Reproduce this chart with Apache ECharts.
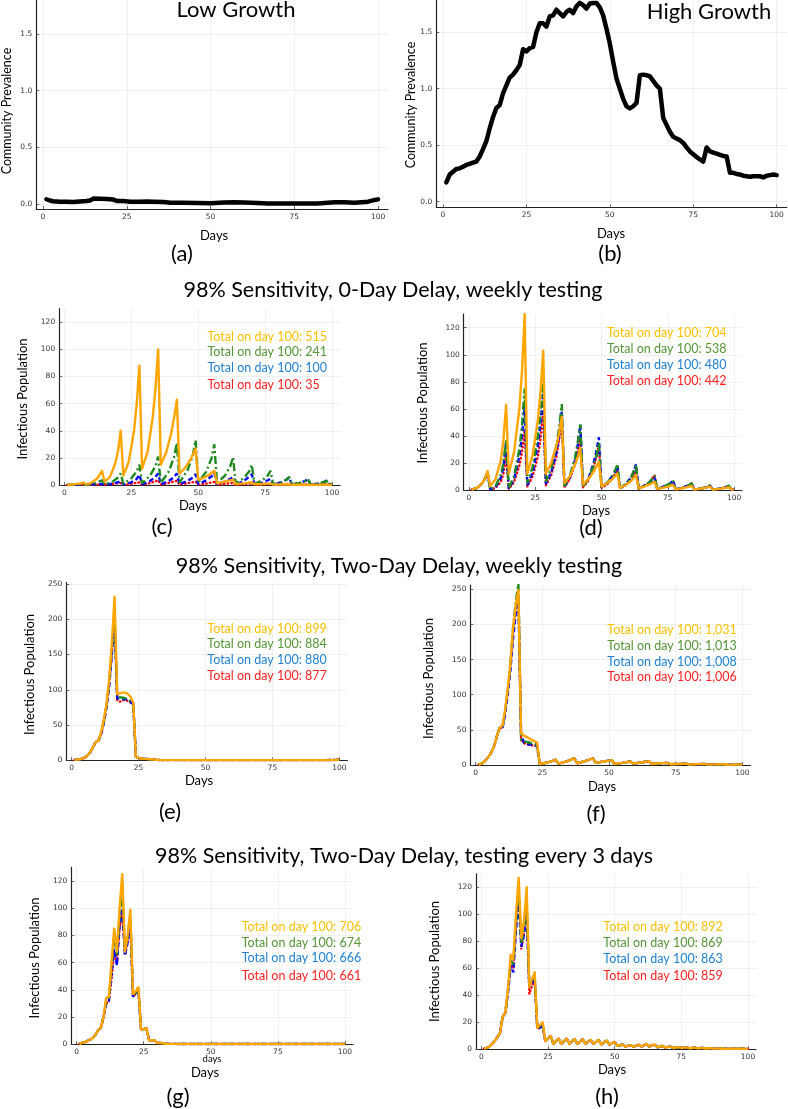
<!DOCTYPE html>
<html><head><meta charset="utf-8">
<script src="https://cdn.jsdelivr.net/npm/echarts@6/dist/echarts.min.js"></script>
<style>html,body{margin:0;padding:0;background:#fff}#c{width:788px;height:1109px}</style>
</head><body><div id="c"></div>
<script>
// ---------- DATA ----------
const xTicks = [0, 25, 50, 75, 100];
const prevTicks = [0, 0.5, 1.0, 1.5];
const t120 = [0, 20, 40, 60, 80, 100, 120];
const t250 = [0, 50, 100, 150, 200, 250];

const aPrev = [[1,0.041],[2,0.03],[3,0.024],[5,0.018],[7,0.02],[9,0.016],[11,0.022],[13,0.025],[14,0.03],[15,0.047],[17,0.045],[19,0.044],[21,0.038],[22,0.026],[24,0.026],[26,0.02],[29,0.02],[31,0.022],[33,0.02],[36,0.016],[38,0.01],[42,0.01],[46,0.009],[50,0.006],[54,0.012],[57,0.015],[60,0.012],[64,0.008],[67,0.004],[72,0.003],[77,0.003],[82,0.003],[85,0.01],[87,0.015],[90,0.015],[93,0.01],[95,0.015],[97,0.02],[99,0.035],[100,0.04]];
const bPrev = [[1,0.17],[2,0.24],[3,0.265],[4,0.29],[5,0.295],[6,0.31],[7,0.325],[8,0.335],[9,0.345],[10,0.355],[11,0.4],[12,0.465],[13,0.535],[14,0.65],[15,0.75],[16,0.83],[17,0.855],[18,0.96],[19,1.03],[20,1.1],[21,1.125],[22,1.165],[23,1.21],[24,1.35],[25,1.33],[26,1.36],[27,1.37],[28,1.5],[29,1.58],[30,1.58],[31,1.55],[32,1.64],[33,1.65],[34,1.7],[35,1.67],[36,1.64],[37,1.68],[38,1.7],[39,1.67],[40,1.73],[41,1.76],[42,1.74],[43,1.71],[44,1.755],[45,1.76],[46,1.76],[47,1.72],[48,1.65],[49,1.53],[50,1.4],[51,1.24],[52,1.09],[53,1.0],[54,0.91],[55,0.845],[56,0.825],[57,0.845],[58,0.875],[59,1.12],[60,1.125],[61,1.12],[62,1.11],[63,1.07],[64,1.03],[65,1.0],[66,0.74],[67,0.68],[68,0.62],[69,0.575],[70,0.56],[71,0.545],[72,0.52],[73,0.48],[74,0.445],[75,0.42],[76,0.395],[77,0.375],[78,0.355],[79,0.48],[80,0.445],[81,0.435],[82,0.425],[83,0.415],[84,0.405],[85,0.4],[86,0.255],[87,0.255],[88,0.245],[89,0.24],[90,0.23],[91,0.225],[92,0.22],[93,0.225],[94,0.225],[95,0.225],[96,0.215],[97,0.23],[98,0.235],[99,0.24],[100,0.235]];

// (c) 0-day delay, weekly, low growth
const cOrange = [[1,0.2],[4,0.6],[6,1.2],[7,1.8],[8,0.5],[10,1.6],[12,4.5],[13,7],[14,10.5],[15,2.5],[17,6],[19,16],[20,25],[21,40],[22,7],[24,17],[26,40],[27,60],[28,88],[29,12],[31,24],[33,50],[34,71],[35,100],[36,15],[38,24],[40,39],[41,50],[42,63],[43,8.5],[45,12.5],[47,18.5],[48,22.5],[49,27],[50,3.7],[52,5.3],[54,7.5],[55,9],[56,10.5],[57,1.3],[59,2],[61,3],[63,4],[64,0.7],[67,1.2],[70,2],[71,0.5],[74,0.7],[77,1],[78,0.3],[84,0.5],[85,0.2],[91,0.3],[92,0.1],[100,0.2]];
const cGreen = [[1,0.1],[7,0.5],[8,0.2],[11,1],[14,3.5],[15,0.5],[18,2.5],[20,5.5],[21,8.5],[22,0.8],[25,5],[27,10],[28,15],[29,1.2],[32,7],[34,14],[35,21],[36,1.5],[39,10],[41,21],[42,31],[43,1.8],[46,11],[48,22],[49,33],[50,1.8],[53,10],[55,20],[56,30],[57,1.5],[60,7],[62,14],[63,20.5],[64,1.2],[67,5],[69,10],[70,15],[71,0.8],[74,3.5],[76,7],[77,10.5],[78,0.6],[81,2],[83,4],[84,6],[85,0.5],[88,1.5],[90,3],[91,4.5],[92,0.4],[95,1.2],[97,2.2],[98,3],[99,0.8],[100,0.8]];
const cBlue = [[1,0.05],[14,0.8],[15,0.1],[18,1],[20,2],[21,3],[22,0.3],[25,2],[27,4.5],[28,7.5],[29,0.4],[32,3],[34,6],[35,8.5],[36,0.5],[39,3],[41,6],[42,8.5],[43,0.5],[46,3],[48,5.5],[49,8],[50,0.5],[53,3.5],[55,6.5],[56,9],[57,0.4],[60,2.5],[62,4.5],[63,6],[64,0.3],[67,3],[69,6],[70,8],[71,0.3],[74,1.8],[76,3.5],[77,4.5],[78,0.3],[81,2],[83,4],[84,5.5],[85,0.3],[88,1.5],[90,3],[91,4.3],[92,0.2],[95,1],[97,2.3],[98,3.2],[99,0.3],[100,0.3]];
const cRed = [[1,0.02],[14,0.3],[18,0.8],[21,1.5],[22,0.1],[25,0.9],[28,2],[29,0.2],[32,1.4],[35,3.5],[36,0.3],[39,1.5],[42,3.2],[43,0.3],[46,1.3],[49,2.5],[50,0.2],[53,1.1],[56,2.2],[57,0.2],[60,0.8],[63,1.6],[64,0.1],[67,0.6],[70,1.2],[71,0.1],[77,0.8],[78,0.1],[84,0.8],[85,0.1],[91,0.5],[98,0.4],[100,0.1]];

// (d) 0-day delay, weekly, high growth
const dOrange = [[1,0.3],[3,1.5],[5,5],[6,8.5],[7,14],[8,3],[10,8],[12,22],[13,37],[14,63],[15,12],[17,28],[19,60],[20,88],[21,130],[22,12],[24,26],[26,52],[27,73],[28,103],[29,12],[31,20],[33,33],[34,42],[35,54],[36,5],[38,10],[40,19],[41,24],[42,31],[43,4],[45,8],[47,13.5],[48,17],[49,21],[50,2.5],[52,5],[54,8],[55,10],[56,12],[57,1.5],[59,3.5],[61,6.5],[62,8.5],[63,11],[64,1.2],[66,2.5],[68,4],[69,5],[70,6],[71,0.8],[74,2],[77,3.7],[78,0.5],[81,1.5],[84,3],[85,0.4],[88,1.2],[91,2.4],[92,0.3],[95,1],[98,2],[99,0.5],[100,0.3]];
const dGreen = [[1,0.3],[3,1.5],[5,5],[6,8.5],[7,13],[8,0.5],[10,3],[12,11],[13,20],[14,37],[15,1.5],[17,10],[19,30],[20,48],[21,75],[22,5],[24,17],[26,40],[27,57],[28,81],[29,6],[31,16],[33,33],[34,46],[35,63.5],[36,3],[38,10],[40,24],[41,35],[42,48.5],[43,3],[45,8],[47,18],[48,25],[49,35],[50,2],[52,5],[54,10],[55,14],[56,19],[57,1.5],[59,4],[61,9],[62,13],[63,19],[64,1],[66,3],[68,5.5],[69,8],[70,10.5],[71,0.8],[74,3],[76,5],[77,7],[78,0.5],[81,2],[83,3.5],[84,5],[85,0.4],[88,1.3],[90,2.5],[91,3.7],[92,0.3],[95,1.2],[97,2.3],[98,3.2],[99,0.4],[100,0.3]];
const dBlue = [[1,0.3],[3,1.5],[5,5],[6,8.5],[7,13],[8,0.3],[10,2],[12,9],[13,17],[14,35],[15,1],[17,8],[19,25],[20,40],[21,62],[22,3.5],[24,13],[26,33],[27,50],[28,72],[29,4.5],[31,13],[33,28],[34,40],[35,58],[36,2.5],[38,9],[40,22],[41,33],[42,48],[43,2.5],[45,8],[47,20],[48,28],[49,39],[50,1.8],[52,5],[54,10],[55,13],[56,18],[57,1.2],[59,4],[61,9],[62,13],[63,19],[64,1],[66,3],[68,5.5],[69,7],[70,9],[71,0.6],[74,3],[76,5],[77,7],[78,0.4],[81,2],[83,3.5],[84,4.5],[85,0.3],[88,1.2],[90,2.3],[91,3.3],[92,0.2],[95,1.2],[97,2.2],[98,3],[99,0.3],[100,0.3]];
const dRed = [[1,0.3],[3,1.5],[5,5],[6,8.5],[7,13],[8,0.2],[10,1.5],[12,6],[13,12],[14,25],[15,0.8],[17,6],[19,18],[20,28],[21,44],[22,2.5],[24,10],[26,25],[27,38],[28,58],[29,3.5],[31,11],[33,25],[34,37],[35,54],[36,2],[38,8],[40,19],[41,28],[42,40],[43,2],[45,7],[47,17],[48,24],[49,33],[50,1.5],[52,4],[54,8],[55,11.5],[56,16],[57,1],[59,3.5],[61,7],[62,10],[63,15],[64,0.8],[66,3],[68,5.5],[69,8],[70,11],[71,0.5],[74,2.5],[76,4.5],[77,6],[78,0.4],[81,1.8],[83,3.5],[84,5],[85,0.3],[88,1.2],[90,2.2],[91,3],[92,0.2],[95,1],[97,2],[98,2.7],[99,0.3],[100,0.3]];

// (e) two-day delay, weekly, low growth
const eHead = [[1,0.5],[2,1],[3,1.5],[4,2.5],[5,4],[6,7],[7,12],[8,19],[9,26],[10,28]];
const eOrangeMid = [[11,40],[12,57],[13,80],[14,115],[15,165],[16,232],[17,94],[18,95],[19,96],[20,96],[21,94],[22,90],[23,82]];
const eGreenMid = [[11,39],[12,55],[13,78],[14,110],[15,157],[16,215],[17,90],[18,89],[19,89],[20,88],[21,86],[22,84],[23,80]];
const eBlueMid = [[11,37],[12,53],[13,75],[14,105],[15,150],[16,200],[17,88],[18,87],[19,87],[20,87],[21,85],[22,83],[23,79]];
const eRedMid = [[11,38],[12,54],[13,76],[14,108],[15,152],[16,205],[17,85],[18,83],[19,85],[20,86],[21,84],[22,82],[23,79]];
const eTail = [[24,5],[25,3],[26,2.5],[27,2],[28,2],[29,1.5],[30,1.5],[31,0.8],[33,0.3],[50,0.2],[75,0.2],[95,0.2],[98,0.5],[100,1]];

// (f) two-day delay, weekly, high growth
const fHead = [[1,0.5],[2,1.5],[3,4],[4,8],[5,13],[6,19],[7,28],[8,42],[9,53]];
const fOrangeMid = [[10,56],[11,78],[12,108],[13,145],[14,195],[15,228],[16,249],[17,45],[18,42],[19,40],[20,38],[21,36],[22,34],[23,32]];
const fGreenMid = [[10,53],[11,76],[12,106],[13,143],[14,195],[15,232],[16,258],[17,35],[18,34],[19,33],[20,32],[21,31],[22,30],[23,29]];
const fBlueMid = [[10,52],[11,72],[12,100],[13,135],[14,180],[15,215],[16,238],[17,46],[18,32],[19,30],[20,29],[21,29],[22,28],[23,27]];
const fRedMid = [[10,53],[11,74],[12,103],[13,140],[14,188],[15,222],[16,242],[17,37],[18,31],[19,30],[20,29],[21,28],[22,28],[23,27]];
const fTail = [[24,1.5],[27,3.5],[30,7.5],[31,2],[34,5],[37,9.5],[38,2.5],[41,5.5],[44,9.5],[45,3],[48,5],[51,7],[52,1.5],[55,3],[58,5],[59,2],[62,3.5],[65,5.5],[66,1.5],[69,2.5],[72,3],[73,1],[76,1.5],[79,2],[80,0.8],[83,1.2],[86,1.5],[87,0.6],[90,0.9],[93,1.1],[94,0.4],[97,0.6],[100,0.8]];

// (g) two-day delay, every 3 days, low growth
const gHead = [[1,0.3],[2,1],[3,1.5],[4,2.5],[5,3.5],[6,4.5],[7,7],[8,10.5],[9,12],[10,20]];
const gOrangeMid = [[11,34],[12,35],[13,60],[14,85],[15,68],[16,100],[17,125],[18,68],[19,80],[20,99],[21,37],[22,39],[23,42]];
const gGreenMid = [[11,32],[12,33],[13,57],[14,80],[15,65],[16,95],[17,112],[18,69],[19,79],[20,95],[21,36],[22,38],[23,41]];
const gBlueMid = [[11,30],[12,32],[13,52],[14,70],[15,58],[16,88],[17,100],[18,65],[19,75],[20,90],[21,35],[22,37],[23,40]];
const gRedMid = [[11,30],[12,31],[13,48],[14,68],[15,60],[16,85],[17,97],[18,66],[19,76],[20,88],[21,35],[22,37],[23,40]];
const gTail = [[24,11],[25,11],[26,12],[27,3],[28,3],[29,3],[30,1],[31,1],[32,0.8],[33,0.3],[50,0.2],[100,0.2]];

// (h) two-day delay, every 3 days, high growth
const hHead = [[1,0.5],[2,1],[3,2],[4,4],[5,6],[6,9],[7,12],[8,24],[9,27]];
const hOrangeMid = [[10,45],[11,70],[12,67],[13,100],[14,127],[15,82],[16,95],[17,120],[18,46],[19,52],[20,57],[21,16],[22,18],[23,20]];
const hGreenMid = [[10,44],[11,66],[12,63],[13,95],[14,115],[15,78],[16,90],[17,108],[18,47],[19,51],[20,54],[21,15],[22,17],[23,18]];
const hBlueMid = [[10,42],[11,62],[12,57],[13,88],[14,110],[15,76],[16,85],[17,100],[18,46],[19,49],[20,52],[21,15],[22,16],[23,17]];
const hRedMid = [[10,43],[11,63],[12,60],[13,92],[14,118],[15,74],[16,86],[17,104],[18,41],[19,47],[20,52],[21,15],[22,16],[23,18]];
const hTail = [[24,6],[25,8],[26,10],[27,4],[28,6],[29,8],[30,4],[31,6],[32,8],[33,4],[34,6],[35,7.5],[36,4],[37,5.5],[38,7.5],[39,4],[40,5.5],[41,7],[42,4],[43,5.5],[44,7],[45,3.5],[46,5],[47,6.5],[48,3.5],[49,4.5],[50,5.5],[51,2.5],[52,3],[53,3.5],[54,2],[55,2.5],[56,3],[57,2],[58,2.5],[59,3.5],[60,2],[61,3],[62,4],[63,2],[64,3],[65,3.5],[66,1.5],[67,2],[68,2.5],[69,1.2],[70,1.8],[71,2],[72,1],[73,1.3],[74,1.6],[75,1],[76,1.2],[77,1.4],[78,0.8],[79,1],[80,1.3],[81,0.7],[82,0.9],[83,1.1],[84,0.6],[85,0.8],[86,0.9],[87,0.5],[88,0.6],[89,0.7],[90,0.4],[92,0.5],[95,0.4],[98,0.4],[100,0.3]];

const cTotals = ['515', '241', '100', '35'];
const dTotals = ['704', '538', '480', '442'];
const eTotals = ['899', '884', '880', '877'];
const fTotals = ['1,031', '1,013', '1,008', '1,006'];
const gTotals = ['706', '674', '666', '661'];
const hTotals = ['892', '869', '863', '859'];

// ---------- LAYOUT / STYLE ----------
const LC = { orange: '#FFA500', green: '#1f8a1f', blue: '#0000ff', red: '#ff0000' };
const TC = ['#FFC000', '#559636', '#1f80d4', '#ff1f1f'];

const panels = [
  { g: [36.3, 0, 351.8, 209], y: [-0.045, 1.8], yt: prevTicks, prev: aPrev },
  { g: [436.3, 0, 350.4, 207.3], y: [-0.05, 1.786], yt: prevTicks, prev: bPrev },
  { g: [59.15, 308.7, 280.9, 176.3], y: [0, 130], yt: t120, s: [cOrange, cGreen, cBlue, cRed] },
  { g: [463.7, 314.2, 278.3, 175.8], y: [0, 130], yt: t120, s: [dOrange, dGreen, dBlue, dRed] },
  { g: [66.35, 582.6, 281, 177.7], y: [0, 252], yt: t250, s: [eHead.concat(eOrangeMid, eTail), eHead.concat(eGreenMid, eTail), eHead.concat(eBlueMid, eTail), eHead.concat(eRedMid, eTail)] },
  { g: [470.4, 585.1, 280, 179.9], y: [0, 256], yt: t250, s: [fHead.concat(fOrangeMid, fTail), fHead.concat(fGreenMid, fTail), fHead.concat(fBlueMid, fTail), fHead.concat(fRedMid, fTail)] },
  { g: [71.3, 867.4, 281.7, 176.9], y: [0, 130], yt: t120, s: [gHead.concat(gOrangeMid, gTail), gHead.concat(gGreenMid, gTail), gHead.concat(gBlueMid, gTail), gHead.concat(gRedMid, gTail)] },
  { g: [476, 873.8, 280, 175.5], y: [0, 130], yt: t120, s: [hHead.concat(hOrangeMid, hTail), hHead.concat(hGreenMid, hTail), hHead.concat(hBlueMid, hTail), hHead.concat(hRedMid, hTail)] }
];

const grids = [], xAxes = [], yAxes = [], series = [];
panels.forEach((p, i) => {
  grids.push({ left: p.g[0], top: p.g[1], width: p.g[2], height: p.g[3], containLabel: false });
  const axCommon = {
    axisLine: { show: true, onZero: false, lineStyle: { color: '#222', width: 1.2 } },
    splitLine: { show: true, lineStyle: { color: '#ececec', width: 0.8 } },
  };
  xAxes.push(Object.assign({
    type: 'value', gridIndex: i, min: -2, max: 103,
    axisTick: { show: true, inside: true, length: 3, customValues: xTicks, lineStyle: { color: '#444', width: 0.8 } },
    axisLabel: { customValues: xTicks, fontSize: 7.5, color: '#333', margin: 4, fontFamily: 'DejaVu Sans' }
  }, axCommon));
  yAxes.push(Object.assign({
    type: 'value', gridIndex: i, min: p.y[0], max: p.y[1],
    axisTick: { show: true, inside: true, length: 3, customValues: p.yt, lineStyle: { color: '#444', width: 0.8 } },
    axisLabel: { customValues: p.yt, fontSize: 7.5, color: '#333', margin: 4, fontFamily: 'DejaVu Sans',
      formatter: p.prev ? (v => v.toFixed(1)) : (v => String(v)) }
  }, axCommon));
  if (p.prev) {
    series.push({ type: 'line', xAxisIndex: i, yAxisIndex: i, data: p.prev, showSymbol: false, symbol: 'none',
      lineStyle: { color: '#000', width: 4.5, join: 'round', cap: 'round' }, animation: false });
  } else {
    const [o, g, b, r] = p.s;
    series.push({ type: 'line', xAxisIndex: i, yAxisIndex: i, data: r, symbol: 'none', z: 2,
      lineStyle: { color: LC.red, width: 2.4, type: [0.6, 3.2], cap: 'round' }, animation: false });
    series.push({ type: 'line', xAxisIndex: i, yAxisIndex: i, data: b, symbol: 'none', z: 3,
      lineStyle: { color: LC.blue, width: 2.4, type: [5, 3] }, animation: false });
    series.push({ type: 'line', xAxisIndex: i, yAxisIndex: i, data: g, symbol: 'none', z: 4,
      lineStyle: { color: LC.green, width: 2.4, type: [8, 3, 2, 3] }, animation: false });
    series.push({ type: 'line', xAxisIndex: i, yAxisIndex: i, data: o, symbol: 'none', z: 5,
      lineStyle: { color: LC.orange, width: 2.4, join: 'round' }, animation: false });
  }
});

function T(x, y, s, size, color, rot) {
  return { type: 'text', x: x, y: y, rotation: rot || 0, z: 100,
    style: { text: s, fontSize: size, fontFamily: 'Lato', fill: color || '#000', align: 'center', verticalAlign: 'middle' } };
}
function totals(x, ys, vals) {
  return vals.map((v, k) => ({ type: 'text', x: x, y: ys[k], z: 100,
    style: { text: 'Total on day 100: ' + v, fontSize: 12.5, fontFamily: 'Lato', fill: TC[k], align: 'left', verticalAlign: 'middle' } }));
}
const R = Math.PI / 2;
const graphic = [
  T(236, 10, 'Low Growth', 22), T(709, 12, 'High Growth', 22),
  T(7, 111, 'Community Prevalence', 12.5, '#000', R), T(411, 105, 'Community Prevalence', 12.5, '#000', R),
  T(214, 236, 'Days', 13), T(611, 234, 'Days', 13),
  T(182, 254, '(a)', 22), T(610, 254, '(b)', 22),
  T(393, 290, '98% Sensitivity, 0-Day Delay, weekly testing', 21.5),
  T(23, 399, 'Infectious Population', 13, '#000', R), T(423, 403, 'Infectious Population', 13, '#000', R),
  T(193, 506, 'Days', 13), T(596, 511, 'Days', 13),
  T(162, 527, '(c)', 22), T(591, 528, '(d)', 22),
  T(399, 566, '98% Sensitivity, Two-Day Delay, weekly testing', 21.5),
  T(30, 674.5, 'Infectious Population', 13, '#000', R), T(429, 678.5, 'Infectious Population', 13, '#000', R),
  T(199, 781, 'Days', 13), T(602, 787, 'Days', 13),
  T(170, 812, '(e)', 22), T(596, 814, '(f)', 22),
  T(404, 856, '98% Sensitivity, Two-Day Delay, testing every 3 days', 21.5),
  T(35, 958, 'Infectious Population', 13, '#000', R), T(435, 961.5, 'Infectious Population', 13, '#000', R),
  T(212, 1059, 'days', 9.5), T(205, 1073, 'Days', 13), T(612, 1070, 'Days', 13),
  T(178, 1097, '(g)', 22), T(607, 1097, '(h)', 22)
].concat(
  totals(207.5, [336.5, 352.3, 368.3, 385], cTotals),
  totals(607, [333.3, 349, 364.5, 380.7], dTotals),
  totals(207.3, [628.5, 644, 659.5, 676], eTotals),
  totals(607.3, [630, 645.5, 661.5, 677.3], fTotals),
  totals(241.7, [927.3, 942.7, 958.3, 975.5], gTotals),
  totals(603.3, [927.3, 943.3, 959.3, 975.5], hTotals)
);

const chart = echarts.init(document.getElementById('c'), null, { renderer: 'canvas', width: 788, height: 1109 });
chart.setOption({
  backgroundColor: '#fff', animation: false,
  grid: grids, xAxis: xAxes, yAxis: yAxes, series: series, graphic: graphic
});
</script></body></html>
